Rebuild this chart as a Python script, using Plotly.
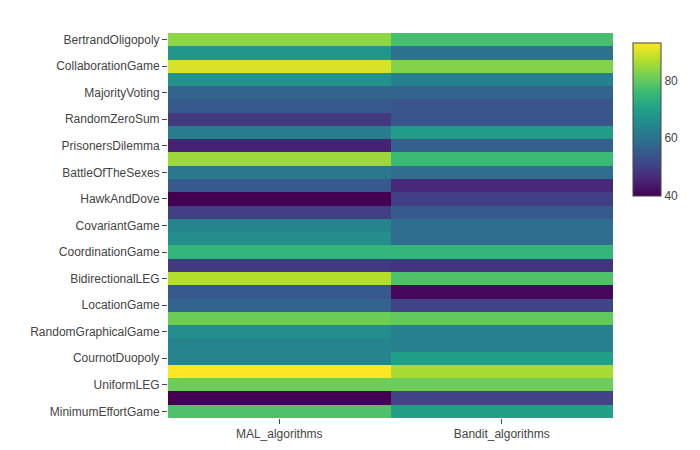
import plotly.graph_objects as go

games = ["BertrandOligopoly", "ChickenGame", "CollaborationGame", "DispersionGame",
         "MajorityVoting", "GrabTheDollar", "RandomZeroSum", "WarOfAttrition",
         "PrisonersDilemma", "StagHunt", "BattleOfTheSexes", "TravelersDilemma",
         "HawkAndDove", "MatchingPennies", "CovariantGame", "ShapleysGame",
         "CoordinationGame", "RockPaperScissors", "BidirectionalLEG", "CovariantLEG",
         "LocationGame", "PolymatrixGame", "RandomGraphicalGame", "CongestionGame",
         "CournotDuopoly", "ArmsRace", "UniformLEG", "RandomLEG", "MinimumEffortGame"]
algorithms = ["MAL_algorithms", "Bandit_algorithms"]
mal = [84, 68, 90, 67, 57, 55, 49, 62, 45, 85, 61, 55, 40, 50, 64,
       66, 75, 49, 87, 55, 57, 81, 66, 64, 64, 93, 81, 40, 78]
bandit = [77, 60, 83, 63, 57, 54, 54, 69, 56, 76, 59, 46, 50, 55, 59,
          59, 75, 48, 78, 41, 51, 80, 63, 63, 70, 86, 81, 51, 70]
shown = games[::2]

z = [[m, b] for m, b in zip(mal, bandit)]
fig = go.Figure(go.Heatmap(
    z=z, x=algorithms, y=games, colorscale="Viridis",
    colorbar=dict(len=0.45, y=1.0, yanchor="top", thickness=28, x=1.0, xpad=20,
                  ypad=10, tickvals=[40, 60, 80], outlinewidth=1, outlinecolor="#444",
                  tickfont=dict(size=12, color="#444"))))
fig.update_yaxes(autorange="reversed", tickvals=shown, ticks="outside",
                 ticklen=5, automargin=False, tickfont=dict(size=12, color="#444"))
fig.update_xaxes(ticks="outside", ticklen=5, automargin=False,
                 tickfont=dict(size=12, color="#444"))
fig.update_layout(width=700, height=450, margin=dict(l=160, r=90, t=25, b=40),
                  plot_bgcolor="white",
                  font=dict(family="Liberation Sans, Arial, sans-serif"))
fig.write_html("out.html")
